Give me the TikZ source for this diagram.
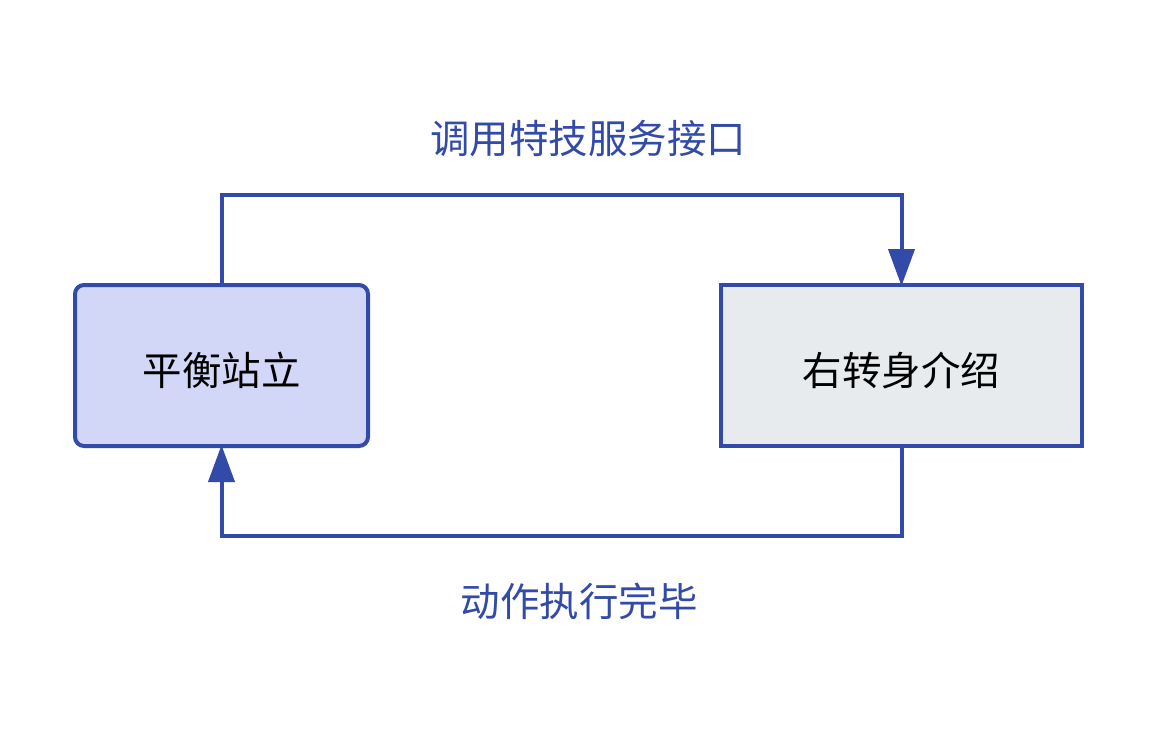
\documentclass[tikz,border=0pt]{standalone}
\usepackage{fontspec}
\newfontfamily\cjk{Noto Sans CJK SC}
\usetikzlibrary{arrows.meta}
\definecolor{edge}{HTML}{324AA8}
\definecolor{fillA}{HTML}{D3D7F7}
\definecolor{fillB}{HTML}{E7EBEE}
\newcommand{\lowr}[1]{\raisebox{-5pt}[\height][\depth]{#1}}
\tikzset{
  box/.style={draw=edge, line width=4pt, minimum width=#1, minimum height=161pt, inner sep=0pt, font=\cjk\fontsize{39.5}{46}\selectfont, text=black},
  conn/.style={draw=edge, line width=4pt, -{Triangle[width=26pt,length=37pt]}, shorten >=-3pt},
  lbl/.style={font=\cjk\fontsize{39.5}{46}\selectfont, text=edge}
}
\begin{document}
\begin{tikzpicture}[x=1pt,y=-1pt]
\useasboundingbox (0,0) rectangle (1157,732);
\node[box=293pt, fill=fillA, rounded corners=9pt] (a) at (221.5,365.5) {\lowr{平衡站立}};
\node[box=361pt, fill=fillB] (b) at (901.5,365.5) {\lowr{右转身介绍}};
\coordinate (t1) at (221.5,195);
\coordinate (t2) at (901.5,195);
\coordinate (u1) at (901.5,536);
\coordinate (u2) at (221.5,536);
\draw[conn] (a.north) -- (t1) -- (t2) -- (b.north);
\draw[conn] (b.south) -- (u1) -- (u2) -- (a.south);
\node[lbl] (l1) at (588,139) {调用特技服务接口};
\node[lbl] (l2) at (579,601) {动作执行完毕};
\end{tikzpicture}
\end{document}
